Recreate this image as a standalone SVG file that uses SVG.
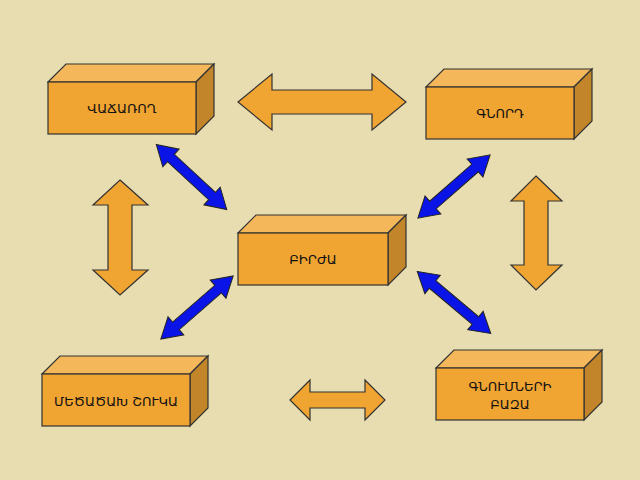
<svg xmlns="http://www.w3.org/2000/svg" width="640" height="480" viewBox="0 0 640 480">
<style>
.f{fill:#F0A432;stroke:#333;stroke-width:1.2}
.t{fill:#F4B75A;stroke:#333;stroke-width:1.2}
.s{fill:#C3852A;stroke:#333;stroke-width:1.2}
.oa{fill:#F0A432;stroke:#333;stroke-width:1.2}
.ba{fill:#0A14E6;stroke:#222;stroke-width:1}
text{font-family:"DejaVu Sans","Noto Sans",sans-serif;font-size:13px;fill:#111;text-anchor:middle}
</style>
<rect width="640" height="480" fill="#E7DDB0"/>
<defs>
<polygon id="bl" class="ba" points="-48,0 -28,-12 -28,-5 28,-5 28,-12 48,0 28,12 28,5 -28,5 -28,12"/>
</defs>
<g id="connectors">
<polygon class="oa" points="238,102 272,74 272,90 372,90 372,74 406,102 372,130 372,114 272,114 272,130"/>
<polygon class="oa" points="290,400 310,380 310,392 365,392 365,380 385,400 365,420 365,408 310,408 310,420"/>
<polygon class="oa" points="120,180 148,205 132,205 132,270 148,270 120,295 93,270 108,270 108,205 93,205"/>
<polygon class="oa" points="536,176 562,201 548,201 548,265 562,265 536,290 511,265 524,265 524,201 511,201"/>
<use href="#bl" transform="translate(191.5,177) rotate(42.8)"/>
<use href="#bl" transform="translate(454,186.5) rotate(-41.2)"/>
<use href="#bl" transform="translate(197,307.5) rotate(-41.1)"/>
<use href="#bl" transform="translate(454,302.5) rotate(40.1)"/>
</g>
<g id="vachar">
<polygon class="t" points="48,82 66,64 214,64 196,82"/><polygon class="s" points="196,82 214,64 214,116 196,134"/>
<rect class="f" x="48" y="82" width="148" height="52"/><text x="122" y="113">ՎԱՃԱՌՈՂ</text>
</g>
<g id="gnord">
<polygon class="t" points="426,87 444,69 592,69 574,87"/><polygon class="s" points="574,87 592,69 592,121 574,139"/>
<rect class="f" x="426" y="87" width="148" height="52"/><text x="500" y="118">ԳՆՈՐԴ</text>
</g>
<g id="birja">
<polygon class="t" points="238,233 256,215 406,215 388,233"/><polygon class="s" points="388,233 406,215 406,267 388,285"/>
<rect class="f" x="238" y="233" width="150" height="52"/><text x="313" y="264">ԲԻՐԺԱ</text>
</g>
<g id="shuka">
<polygon class="t" points="42,374 60,356 208,356 190,374"/><polygon class="s" points="190,374 208,356 208,408 190,426"/>
<rect class="f" x="42" y="374" width="148" height="52"/><text x="116" y="406">ՄԵԾԱԾԱԽ ՇՈՒԿԱ</text>
</g>
<g id="baza">
<polygon class="t" points="436,368 454,350 602,350 584,368"/><polygon class="s" points="584,368 602,350 602,402 584,420"/>
<rect class="f" x="436" y="368" width="148" height="52"/><text x="510" y="391">ԳՆՈՒՄՆԵՐԻ</text><text x="510" y="409">ԲԱԶԱ</text>
</g>
</svg>
